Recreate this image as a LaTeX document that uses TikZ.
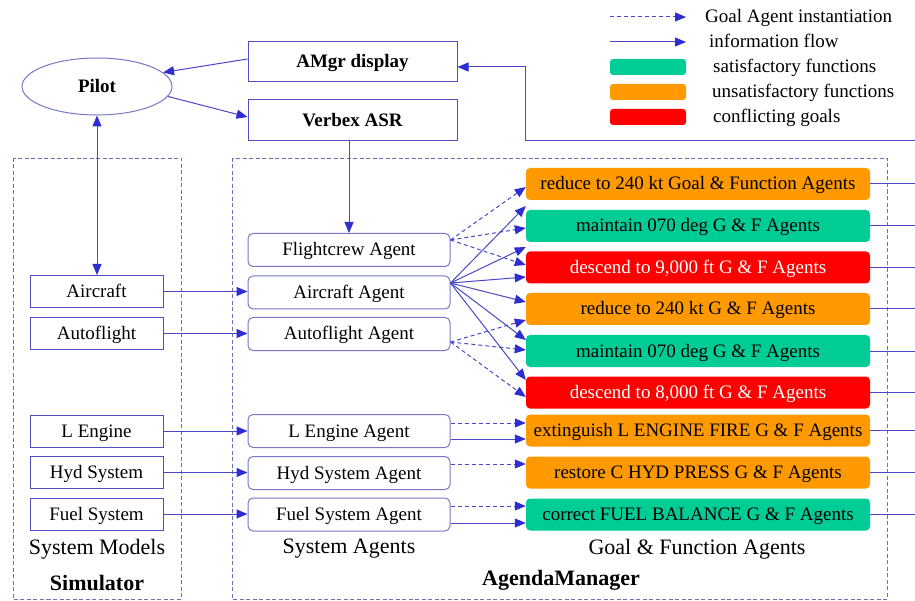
\documentclass[tikz,border=0pt]{standalone}
\usepackage{fontspec}
\setmainfont{Liberation Serif}
\usetikzlibrary{arrows.meta,shapes.geometric}

\definecolor{flowblue}{RGB}{72,72,200}
\definecolor{tipblue}{RGB}{45,45,210}
\definecolor{boxblue}{RGB}{80,80,195}
\definecolor{agentblue}{RGB}{120,120,200}
\definecolor{regionblue}{RGB}{110,110,185}
\definecolor{satgreen}{RGB}{0,204,150}
\definecolor{unsatorange}{RGB}{255,153,0}
\definecolor{confred}{RGB}{255,0,0}

\newcommand{\boxfont}{\fontsize{19}{22}\selectfont}
\newcommand{\labelfont}{\fontsize{22}{25}\selectfont}

\tikzset{
  tiphead/.tip={Triangle[length=11pt,width=9pt,color=tipblue]},
  tip/.style={-tiphead},
  flow/.style={draw=flowblue, line width=1pt, tip},
  inst/.style={flow, dash pattern=on 4pt off 3pt},
  busline/.style={draw=flowblue, line width=1pt},
  region/.style={draw=regionblue, line width=0.8pt, dash pattern=on 4pt off 2.5pt},
  % text set so that letters sit in the middle of each box
  midtext/.style={text height=12.5pt, text depth=0.5pt},
  plainbox/.style={draw=boxblue, line width=1pt, inner sep=0pt, font=\boxfont, midtext},
  simbox/.style={plainbox, minimum width=133pt, minimum height=32pt},
  topbox/.style={plainbox, minimum width=209pt, minimum height=40pt, font=\boxfont\bfseries},
  agentbox/.style={draw=agentblue, line width=1pt, rounded corners=5pt, inner sep=0pt,
                   minimum width=202pt, minimum height=33pt, font=\boxfont, midtext},
  goalbox/.style={rounded corners=4pt, inner sep=0pt, minimum width=344pt,
                  minimum height=32pt, font=\boxfont, midtext},
  sat/.style={goalbox, fill=satgreen},
  unsat/.style={goalbox, fill=unsatorange},
  conf/.style={goalbox, fill=confred, text=white},
  swatch/.style={rounded corners=3pt, minimum width=76pt, minimum height=16pt, inner sep=0pt},
  legendtext/.style={anchor=west, inner sep=0pt, font=\boxfont, midtext},
  caption/.style={inner sep=0pt, font=\labelfont},
}

\begin{document}
\begin{tikzpicture}[x=1pt,y=-1pt]
\useasboundingbox (0,0) rectangle (915,601);

% dashed regions: simulator and AgendaManager
\draw[region] (13,158) rectangle (181,599);
\draw[region] (232,158) rectangle (887,599);

% pilot and the display / speech recognition boxes
\node[draw=agentblue, line width=1pt, ellipse, minimum width=150pt, minimum height=57pt,
      inner sep=0pt, font=\boxfont\bfseries, midtext] (pilot) at (97,86.5) {Pilot};
\node[topbox] (amgr) at (352.5,62) {AMgr display};
\node[topbox, minimum height=41pt] (verbex) at (352.5,120.5) {Verbex ASR};

% system models
\node[simbox] (acm)  at (96.5,291.5) {Aircraft};
\node[simbox] (afm)  at (96.5,333.5) {Autoflight};
\node[simbox] (lem)  at (96.5,431)   {L Engine};
\node[simbox] (hydm) at (96.5,472.5) {Hyd System};
\node[simbox] (fuelm) at (96.5,514)  {Fuel System};

% system agents
\node[agentbox] (fca)  at (349,250)   {Flightcrew Agent};
\node[agentbox] (aca)  at (349,292.5) {Aircraft Agent};
\node[agentbox] (afa)  at (349,334)   {Autoflight Agent};
\node[agentbox] (lea)  at (349,431)   {L Engine Agent};
\node[agentbox] (hyda) at (349,473)   {Hyd System Agent};
\node[agentbox] (fuela) at (349,514.5) {Fuel System Agent};

% goal & function agents
\node[unsat] (g1) at (698,184)   {reduce to 240 kt Goal \& Function Agents};
\node[sat]   (g2) at (698,226)   {maintain 070 deg G \& F Agents};
\node[conf]  (g3) at (698,267.5) {descend to 9,000 ft G \& F Agents};
\node[unsat] (g4) at (698,309)   {reduce to 240 kt G \& F Agents};
\node[sat]   (g5) at (698,351)   {maintain 070 deg G \& F Agents};
\node[conf]  (g6) at (698,392.5) {descend to 8,000 ft G \& F Agents};
\node[unsat] (g7) at (698,430.5) {extinguish L ENGINE FIRE G \& F Agents};
\node[unsat] (g8) at (698,472.5) {restore C HYD PRESS G \& F Agents};
\node[sat]   (g9) at (698,514.5) {correct FUEL BALANCE G \& F Agents};

% captions
\node[caption] (capmod) at (97,549) {System Models};
\node[caption, font=\labelfont\bfseries] (capsim) at (97,583) {Simulator};
\node[caption] (capag) at (349,549) {System Agents};
\node[caption] (capgf) at (697,549) {Goal \& Function Agents};
\node[caption, font=\labelfont\bfseries] (capam) at (561,580) {AgendaManager};

% pilot interaction
\draw[flow] ([yshift=3pt]amgr.west) -- (pilot.12);
\draw[flow] (pilot.-8) -- ([yshift=3.5pt]verbex.west);
\draw[flow, tiphead-tiphead] (pilot.south) -- (pilot.south |- acm.north);
\draw[flow] (verbex.south -| fca.north) -- (fca.north);

% simulator to system agents
\foreach \m/\a in {acm/aca, afm/afa, lem/lea, hydm/hyda, fuelm/fuela}
  \draw[flow] (\m.east) -- (\m.east -| \a.west);

% flightcrew agent instantiates goal agents
\draw[inst] ([yshift=10pt]fca.east) -- ([yshift=-3pt]g1.west);
\draw[inst] ([yshift=10pt]fca.east) -- ([yshift=-2pt]g2.west);
\draw[inst] ([yshift=10pt]fca.east) -- ([yshift=2.5pt]g3.west);

% aircraft agent feeds all flight goals
\draw[flow] ([yshift=9.5pt]aca.east) -- ([yshift=-22pt]g1.west);
\draw[flow] ([yshift=9.5pt]aca.east) -- ([yshift=-21pt]g2.west);
\draw[flow] ([yshift=9.5pt]aca.east) -- ([yshift=-9.5pt]g3.west);
\draw[flow] ([yshift=9.5pt]aca.east) -- ([yshift=7pt]g4.west);
\draw[flow] ([yshift=9.5pt]aca.east) -- ([yshift=11pt]g5.west);
\draw[flow] ([yshift=9.5pt]aca.east) -- ([yshift=12.5pt]g6.west);

% autoflight agent instantiates goal agents
\draw[inst] ([yshift=-8pt]afa.east) -- ([yshift=-11pt]g4.west);
\draw[inst] ([yshift=-8pt]afa.east) -- ([yshift=1pt]g5.west);
\draw[inst] ([yshift=-8pt]afa.east) -- ([yshift=-4.5pt]g6.west);

% system faults
\draw[inst] ([yshift=8pt]lea.east) -- ([yshift=8pt]lea.east -| g7.west);
\draw[flow] ([yshift=-8pt]lea.east) -- ([yshift=-8pt]lea.east -| g7.west);
\draw[inst] ([yshift=9pt]hyda.east) -- ([yshift=9pt]hyda.east -| g8.west);
\draw[inst] ([yshift=8.5pt]fuela.east) -- ([yshift=8.5pt]fuela.east -| g9.west);
\draw[flow] ([yshift=-8.5pt]fuela.east) -- ([yshift=-8.5pt]fuela.east -| g9.west);

% outputs to the display bus
\coordinate (bus) at (915,141);
\foreach \g in {g1,g2,g3,g4,g5,g6,g7,g8,g9}
  \draw[busline] (\g.east) -- (\g.east -| bus);
\draw[flow] (bus) -- (bus -| g1.west) |- ([yshift=-5pt]amgr.east);

% legend
\coordinate (la1) at (610,17);  \coordinate (lb1) at (686,17);
\coordinate (la2) at (610,42);  \coordinate (lb2) at (686,42);
\draw[inst] (la1) -- (lb1);
\draw[flow] (la2) -- (lb2);
\node[legendtext] (lt1) at (705,17) {Goal Agent instantiation};
\node[legendtext] (lt2) at (709,42) {information flow};
\node[swatch, fill=satgreen]    (sw1) at (648,67)  {};
\node[swatch, fill=unsatorange] (sw2) at (648,92)  {};
\node[swatch, fill=confred]     (sw3) at (648,117) {};
\node[legendtext] (lt3) at (713,67)  {satisfactory functions};
\node[legendtext] (lt4) at (712,92)  {unsatisfactory functions};
\node[legendtext] (lt5) at (713,117) {conflicting goals};
\end{tikzpicture}
\end{document}
